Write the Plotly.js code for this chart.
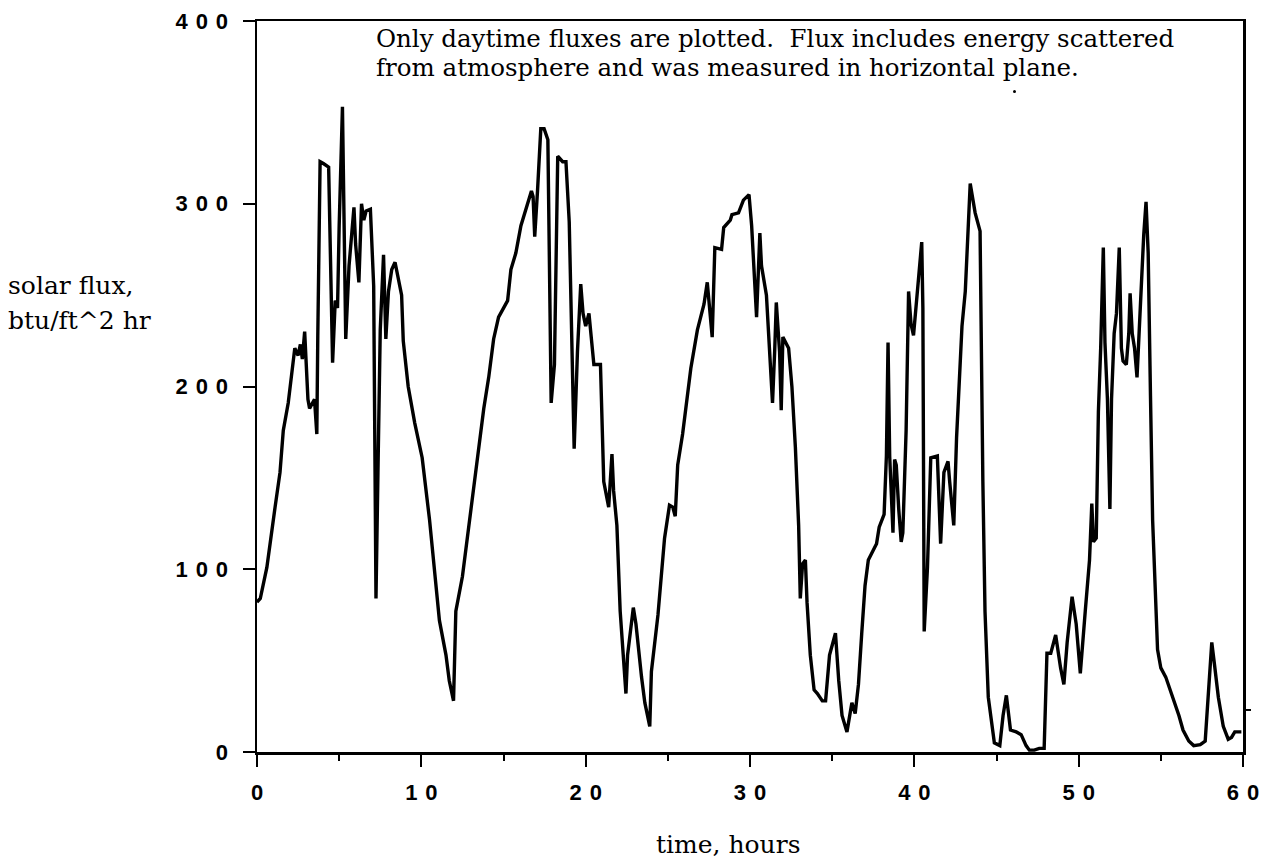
<!DOCTYPE html>
<html><head><meta charset="utf-8">
<script src="https://cdn.plot.ly/plotly-3.0.1.min.js"></script>
<style>html,body{margin:0;padding:0;background:#fff}</style>
</head><body>
<div id="chart" style="width:1267px;height:863px"></div>
<script>
// time, hours
const hours = [
 0,0.2,0.6,0.8,1.1,1.4,1.6,1.9,2.1,2.3,
 2.5,2.64,2.76,2.9,3.1,3.2,3.5,3.64,3.7,3.84,
 4.04,4.36,4.6,4.76,4.9,5.0,5.2,5.4,5.6,5.9,
 6.0,6.2,6.36,6.5,6.64,6.9,7.1,7.24,7.36,7.5,
 7.7,7.84,8.0,8.2,8.4,8.8,8.9,9.2,9.6,10.05,
 10.5,10.8,11.1,11.5,11.7,11.96,12.1,12.5,12.8,13.1,
 13.3,13.6,13.8,14.1,14.4,14.7,15.25,15.45,15.75,16.06,
 16.4,16.7,16.8,16.9,17.07,17.27,17.47,17.7,17.9,18.1,
 18.3,18.6,18.8,19.0,19.3,19.5,19.7,19.84,20.0,20.2,
 20.5,20.9,21.1,21.4,21.6,21.7,21.9,22.1,22.45,22.55,
 22.9,23.06,23.4,23.6,23.9,24.0,24.4,24.8,25.1,25.3,
 25.45,25.6,25.9,26.2,26.4,26.8,27.2,27.4,27.55,27.7,
 27.86,28.27,28.4,28.8,28.9,29.3,29.6,29.94,30.1,30.4,
 30.6,30.7,31.0,31.2,31.37,31.5,31.6,31.8,31.9,32.0,
 32.35,32.55,32.76,32.96,33.06,33.2,33.37,33.47,33.67,33.9,
 34.1,34.4,34.6,34.84,35.0,35.2,35.4,35.6,35.9,36.2,
 36.4,36.6,36.8,37.0,37.2,37.4,37.7,37.86,38.16,38.3,
 38.4,38.5,38.7,38.8,38.9,39.05,39.2,39.3,39.5,39.65,
 39.8,39.95,40.2,40.45,40.52,40.6,40.8,41.0,41.4,41.6,
 41.8,42.05,42.15,42.4,42.57,42.9,43.1,43.4,43.7,44.0,
 44.17,44.3,44.5,44.87,45.2,45.4,45.6,45.85,46.2,46.5,
 46.8,47.0,47.3,47.6,47.9,48.07,48.3,48.6,48.9,49.1,
 49.3,49.6,49.85,50.1,50.4,50.66,50.8,50.9,51.07,51.2,
 51.34,51.5,51.6,51.75,51.9,52.0,52.16,52.3,52.47,52.6,
 52.7,52.9,53.05,53.13,53.26,53.4,53.55,53.67,53.8,53.96,
 54.1,54.23,54.37,54.5,54.8,55.0,55.3,55.57,55.9,56.1,
 56.35,56.7,57.0,57.4,57.7,57.9,58.1,58.25,58.5,58.8,
 59.1,59.3,59.5,59.9
];
// solar flux, btu/ft^2 hr
const flux = [
 82,84,101,115,134,153,176,191,207,221,
 217,223,215,230,193,188,193,174,228,323,
 322,320,213,247,243,288,353,226,266,298,
 278,257,300,291,296,297,255,84,153,231,
 272,226,252,264,268,250,225,200,180,161,
 127,98,72,53,39,28,77,96,117,141,
 155,176,188,205,226,238,247,264,273,288,
 298,307,304,282,307,341,341,335,191,212,
 326,323,323,290,166,219,256,240,233,240,
 212,212,148,134,163,143,124,77,32,53,
 79,70,41,27,14,44,75,117,135,134,
 129,157,174,198,210,231,245,257,243,227,
 276,275,287,291,294,295,302,305,288,238,
 284,266,250,221,191,219,246,219,187,227,
 221,200,167,124,84,103,105,82,53,34,
 32,28,28,53,58,65,39,20,11,27,
 21,37,65,91,105,109,114,123,130,162,
 224,162,120,160,157,133,115,120,176,252,
 234,228,252,279,243,66,101,161,162,114,
 153,159,148,124,172,233,252,311,295,285,
 148,77,30,5,3.5,20,31,12,11,9.5,
 3.5,1,1,2,2,54,54,64,46,37,
 60,85,70,43,77,105,136,115,117,186,
 221,276,224,193,133,193,229,240,276,221,
 214,212,229,251,229,221,205,229,255,283,
 301,273,195,127,56,46,41,34,25,20,
 12,6,3.5,4,6,32,60,49,30,14,
 7,8,11,11
];
const SP = '\u00a0\u200a';
const xTickVals = [0,10,20,30,40,50,60];
const xTickText = ['0','1'+SP+'0','2'+SP+'0','3'+SP+'0','4'+SP+'0','5'+SP+'0','6'+SP+'0'];
const xMinorVals = [5,15,25,35,45,55];
const yTickVals = [0,100,200,300,400];
const yTickText = ['0','1'+SP+'0'+SP+'0','2'+SP+'0'+SP+'0','3'+SP+'0'+SP+'0','4'+SP+'0'+SP+'0'];
const noteText = 'Only daytime fluxes are plotted.\u00a0 Flux includes energy scattered<br>from atmosphere and was measured in horizontal plane.';
const yTitle1 = 'solar flux,';
const yTitle2 = 'btu/ft^2 hr';
const xTitle = 'time, hours';

// layout geometry (pixels)
const L = 257, R = 24, T = 21, B = 111, W = 1267, H = 863;
const pw = W - L - R, ph = H - T - B;
const px = x => (x - L) / pw;
const py = y => (H - B - y) / ph;

const serif = {family: 'DejaVu Serif, serif', size: 25, color: '#000'};
const noteFont = {family: 'DejaVu Serif, serif', size: 24.5, color: '#000'};
const sans = {family: 'Liberation Sans, Arial, sans-serif', size: 22, color: '#000', weight: 'bold'};

const trace = {
  x: hours, y: flux, type: 'scatter', mode: 'lines',
  line: {color: '#000', width: 3.4}, hoverinfo: 'skip'
};

const layout = {
  width: W, height: H,
  margin: {l: L, r: R, t: T, b: B, pad: 0},
  paper_bgcolor: '#fff', plot_bgcolor: '#fff',
  showlegend: false,
  xaxis: {
    range: [0, 60], tickmode: 'array', tickvals: xTickVals, ticktext: xTickText,
    ticks: 'outside', ticklen: 12, tickwidth: 2, tickcolor: '#000',
    showline: true, linewidth: 2.5, linecolor: '#000', mirror: true,
    showgrid: false, zeroline: false, tickfont: sans, ticklabelstandoff: 7,
    minor: {tickmode: 'array', tickvals: xMinorVals, ticks: 'outside', ticklen: 6, tickwidth: 2, tickcolor: '#000', showgrid: false}
  },
  yaxis: {
    range: [0, 400], tickmode: 'array', tickvals: yTickVals, ticktext: yTickText,
    ticks: 'outside', ticklen: 12, tickwidth: 2, tickcolor: '#000',
    showline: true, linewidth: 2.5, linecolor: '#000', mirror: true,
    showgrid: false, zeroline: false, tickfont: sans, ticklabelstandoff: 10
  },
  annotations: [
    {xref: 'paper', yref: 'paper', x: px(374), y: py(22), xanchor: 'left', yanchor: 'top', align: 'left', text: noteText, showarrow: false, font: noteFont},
    {xref: 'paper', yref: 'paper', x: px(6), y: py(285), xanchor: 'left', yanchor: 'middle', text: yTitle1, showarrow: false, font: serif},
    {xref: 'paper', yref: 'paper', x: px(6), y: py(320), xanchor: 'left', yanchor: 'middle', text: yTitle2, showarrow: false, font: serif},
    {xref: 'paper', yref: 'paper', x: px(728), y: py(844), xanchor: 'center', yanchor: 'middle', text: xTitle, showarrow: false, font: serif}
  ],
  shapes: [
    {type: 'line', xref: 'paper', yref: 'y', x0: 1, x1: px(1251), y0: 23, y1: 23, line: {color: '#000', width: 2}},
    {type: 'circle', xref: 'paper', yref: 'paper', x0: px(1013), x1: px(1016), y0: py(93), y1: py(90), fillcolor: '#000', line: {color: '#000', width: 0}}
  ]
};

Plotly.newPlot('chart', [trace], layout, {staticPlot: true, displayModeBar: false}).then(gd => {
  // slightly tighter leading for the two-line note, as in the original typesetting
  const note = gd.querySelector('.annotation[data-index="0"] text.annotation-text');
  if (note) {
    const lines = note.querySelectorAll('tspan.line');
    if (lines.length > 1) lines[1].setAttribute('dy', '1.2em');
  }
});
</script>
</body></html>
